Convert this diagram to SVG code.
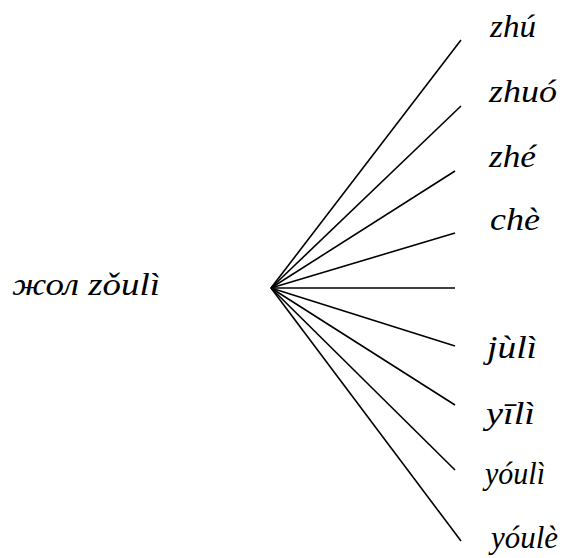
<svg xmlns="http://www.w3.org/2000/svg" width="573" height="558" viewBox="0 0 573 558">
<style>
text{font-family:"Liberation Serif","Times New Roman",serif;font-style:italic;font-size:31px;fill:#000}
</style>
<rect width="573" height="558" fill="#fff"/>
<g id="connectors" stroke="#000" stroke-width="1.6">
<line x1="271" y1="288" x2="461" y2="40"/>
<line x1="271" y1="288" x2="461" y2="106"/>
<line x1="271" y1="288" x2="455" y2="171"/>
<line x1="271" y1="288" x2="455" y2="233"/>
<line x1="271" y1="288" x2="455" y2="288"/>
<line x1="271" y1="288" x2="455" y2="346"/>
<line x1="271" y1="288" x2="455" y2="405"/>
<line x1="271" y1="288" x2="455" y2="470"/>
<line x1="271" y1="288" x2="461" y2="541"/>
</g>
<g id="root"><text x="12" y="295" textLength="148" lengthAdjust="spacingAndGlyphs">жол zǒulì</text></g>
<g id="n1"><text x="490" y="37" textLength="46" lengthAdjust="spacingAndGlyphs">zhú</text></g>
<g id="n2"><text x="489" y="102" textLength="68" lengthAdjust="spacingAndGlyphs">zhuó</text></g>
<g id="n3"><text x="489" y="167" textLength="47" lengthAdjust="spacingAndGlyphs">zhé</text></g>
<g id="n4"><text x="490" y="230" textLength="50" lengthAdjust="spacingAndGlyphs">chè</text></g>
<g id="n6"><text x="487" y="358" textLength="50" lengthAdjust="spacingAndGlyphs">jùlì</text></g>
<g id="n7"><text x="486" y="424" textLength="49" lengthAdjust="spacingAndGlyphs">yīlì</text></g>
<g id="n8"><text x="485" y="484" textLength="60" lengthAdjust="spacingAndGlyphs">yóulì</text></g>
<g id="n9"><text x="491" y="548" textLength="67" lengthAdjust="spacingAndGlyphs">yóulè</text></g>
</svg>
